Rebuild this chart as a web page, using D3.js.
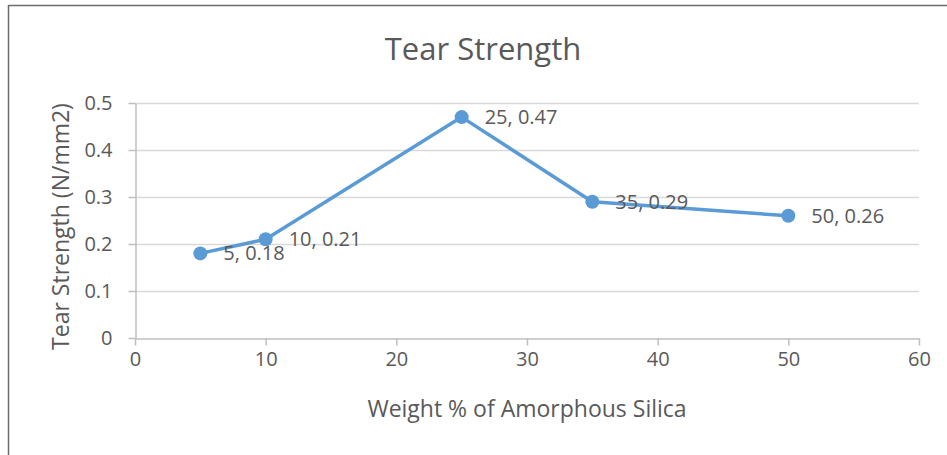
<!DOCTYPE html>
<html>
<head>
<meta charset="utf-8">
<script src="https://cdn.jsdelivr.net/npm/d3@7"></script>
<style>
html,body{margin:0;padding:0;background:#fff;}
svg{display:block;}
text{font-family:"Open Sans",sans-serif;fill:#595959;}
</style>
</head>
<body>
<svg id="chart" width="947" height="455"></svg>
<script>
const xValues = [5, 10, 25, 35, 50];
const yValues = [0.18, 0.21, 0.47, 0.29, 0.26];
const xTicks = [0, 10, 20, 30, 40, 50, 60];
const yTicks = [0, 0.1, 0.2, 0.3, 0.4, 0.5];
const title = "Tear Strength";
const xTitle = "Weight % of Amorphous Silica";
const yTitle = "Tear Strength (N/mm2)";

const svg = d3.select("#chart");
const W = 947, H = 455;
const m = {left:135, right:28, top:103, bottom:117};
const FONT = "'Open Sans',sans-serif";

svg.append("line").attr("x1",8.5).attr("x2",W).attr("y1",5.5).attr("y2",5.5).attr("stroke","#6b6b6b").attr("stroke-width",1.5);
svg.append("line").attr("x1",8.5).attr("x2",8.5).attr("y1",5).attr("y2",H).attr("stroke","#6b6b6b").attr("stroke-width",1.5);

const x = d3.scaleLinear().domain([0,60]).range([m.left, W-m.right]);
const y = d3.scaleLinear().domain([0,0.5]).range([H-m.bottom, m.top]);

svg.append("g").selectAll("line").data(yTicks.filter(d=>d>0)).join("line")
  .attr("x1",x(0)).attr("x2",x(60))
  .attr("y1",d=>Math.round(y(d))+0.5).attr("y2",d=>Math.round(y(d))+0.5)
  .attr("stroke","#d9d9d9").attr("stroke-width",1.5);

const xAxis = svg.append("g").attr("transform",`translate(0,${Math.round(y(0))+0.5})`)
  .call(d3.axisBottom(x).tickValues(xTicks).tickFormat(d3.format("d")).tickSizeInner(7).tickSizeOuter(0).tickPadding(6));
xAxis.select(".domain").attr("stroke","#bfbfbf").attr("stroke-width",1.5);
xAxis.selectAll(".tick line").attr("stroke","#bfbfbf").attr("stroke-width",1.5);
xAxis.selectAll(".tick text").style("font-size","20px").attr("fill","#595959").style("font-family",FONT);

const yAxis = svg.append("g").attr("transform",`translate(${Math.round(x(0))+0.5},0)`)
  .call(d3.axisLeft(y).tickValues(yTicks).tickFormat(d=>d===0?"0":d3.format(".1f")(d)).tickSizeInner(7).tickSizeOuter(0).tickPadding(16));
yAxis.select(".domain").attr("stroke","#bfbfbf").attr("stroke-width",1.5);
yAxis.selectAll(".tick line").attr("stroke","#bfbfbf").attr("stroke-width",1.5);
yAxis.selectAll(".tick text").style("font-size","20px").attr("fill","#595959").style("font-family",FONT);

svg.append("text").attr("x",483).attr("y",60).attr("text-anchor","middle").style("font-size","31px").text(title);
svg.append("text").attr("x",(x(0)+x(60))/2).attr("y",417).attr("text-anchor","middle").style("font-size","23px").text(xTitle);
svg.append("text").attr("transform",`translate(69,${(y(0)+y(0.5))/2+6}) rotate(-90)`).attr("text-anchor","middle").style("font-size","23px").text(yTitle);

const data = xValues.map((v,i)=>({x:v,y:yValues[i]}));
svg.append("path").datum(data)
  .attr("d",d3.line().x(d=>x(d.x)).y(d=>y(d.y)))
  .attr("fill","none").attr("stroke","#5b9bd5").attr("stroke-width",3.5).attr("stroke-linejoin","round");
svg.append("g").selectAll("circle").data(data).join("circle")
  .attr("cx",d=>x(d.x)).attr("cy",d=>y(d.y)).attr("r",7).attr("fill","#5b9bd5");
svg.append("g").selectAll("text").data(data).join("text")
  .attr("x",d=>x(d.x)+23).attr("y",d=>y(d.y)).attr("dy","0.35em")
  .style("font-size","20px").text(d=>`${d.x}, ${d.y}`);
</script>
</body>
</html>
